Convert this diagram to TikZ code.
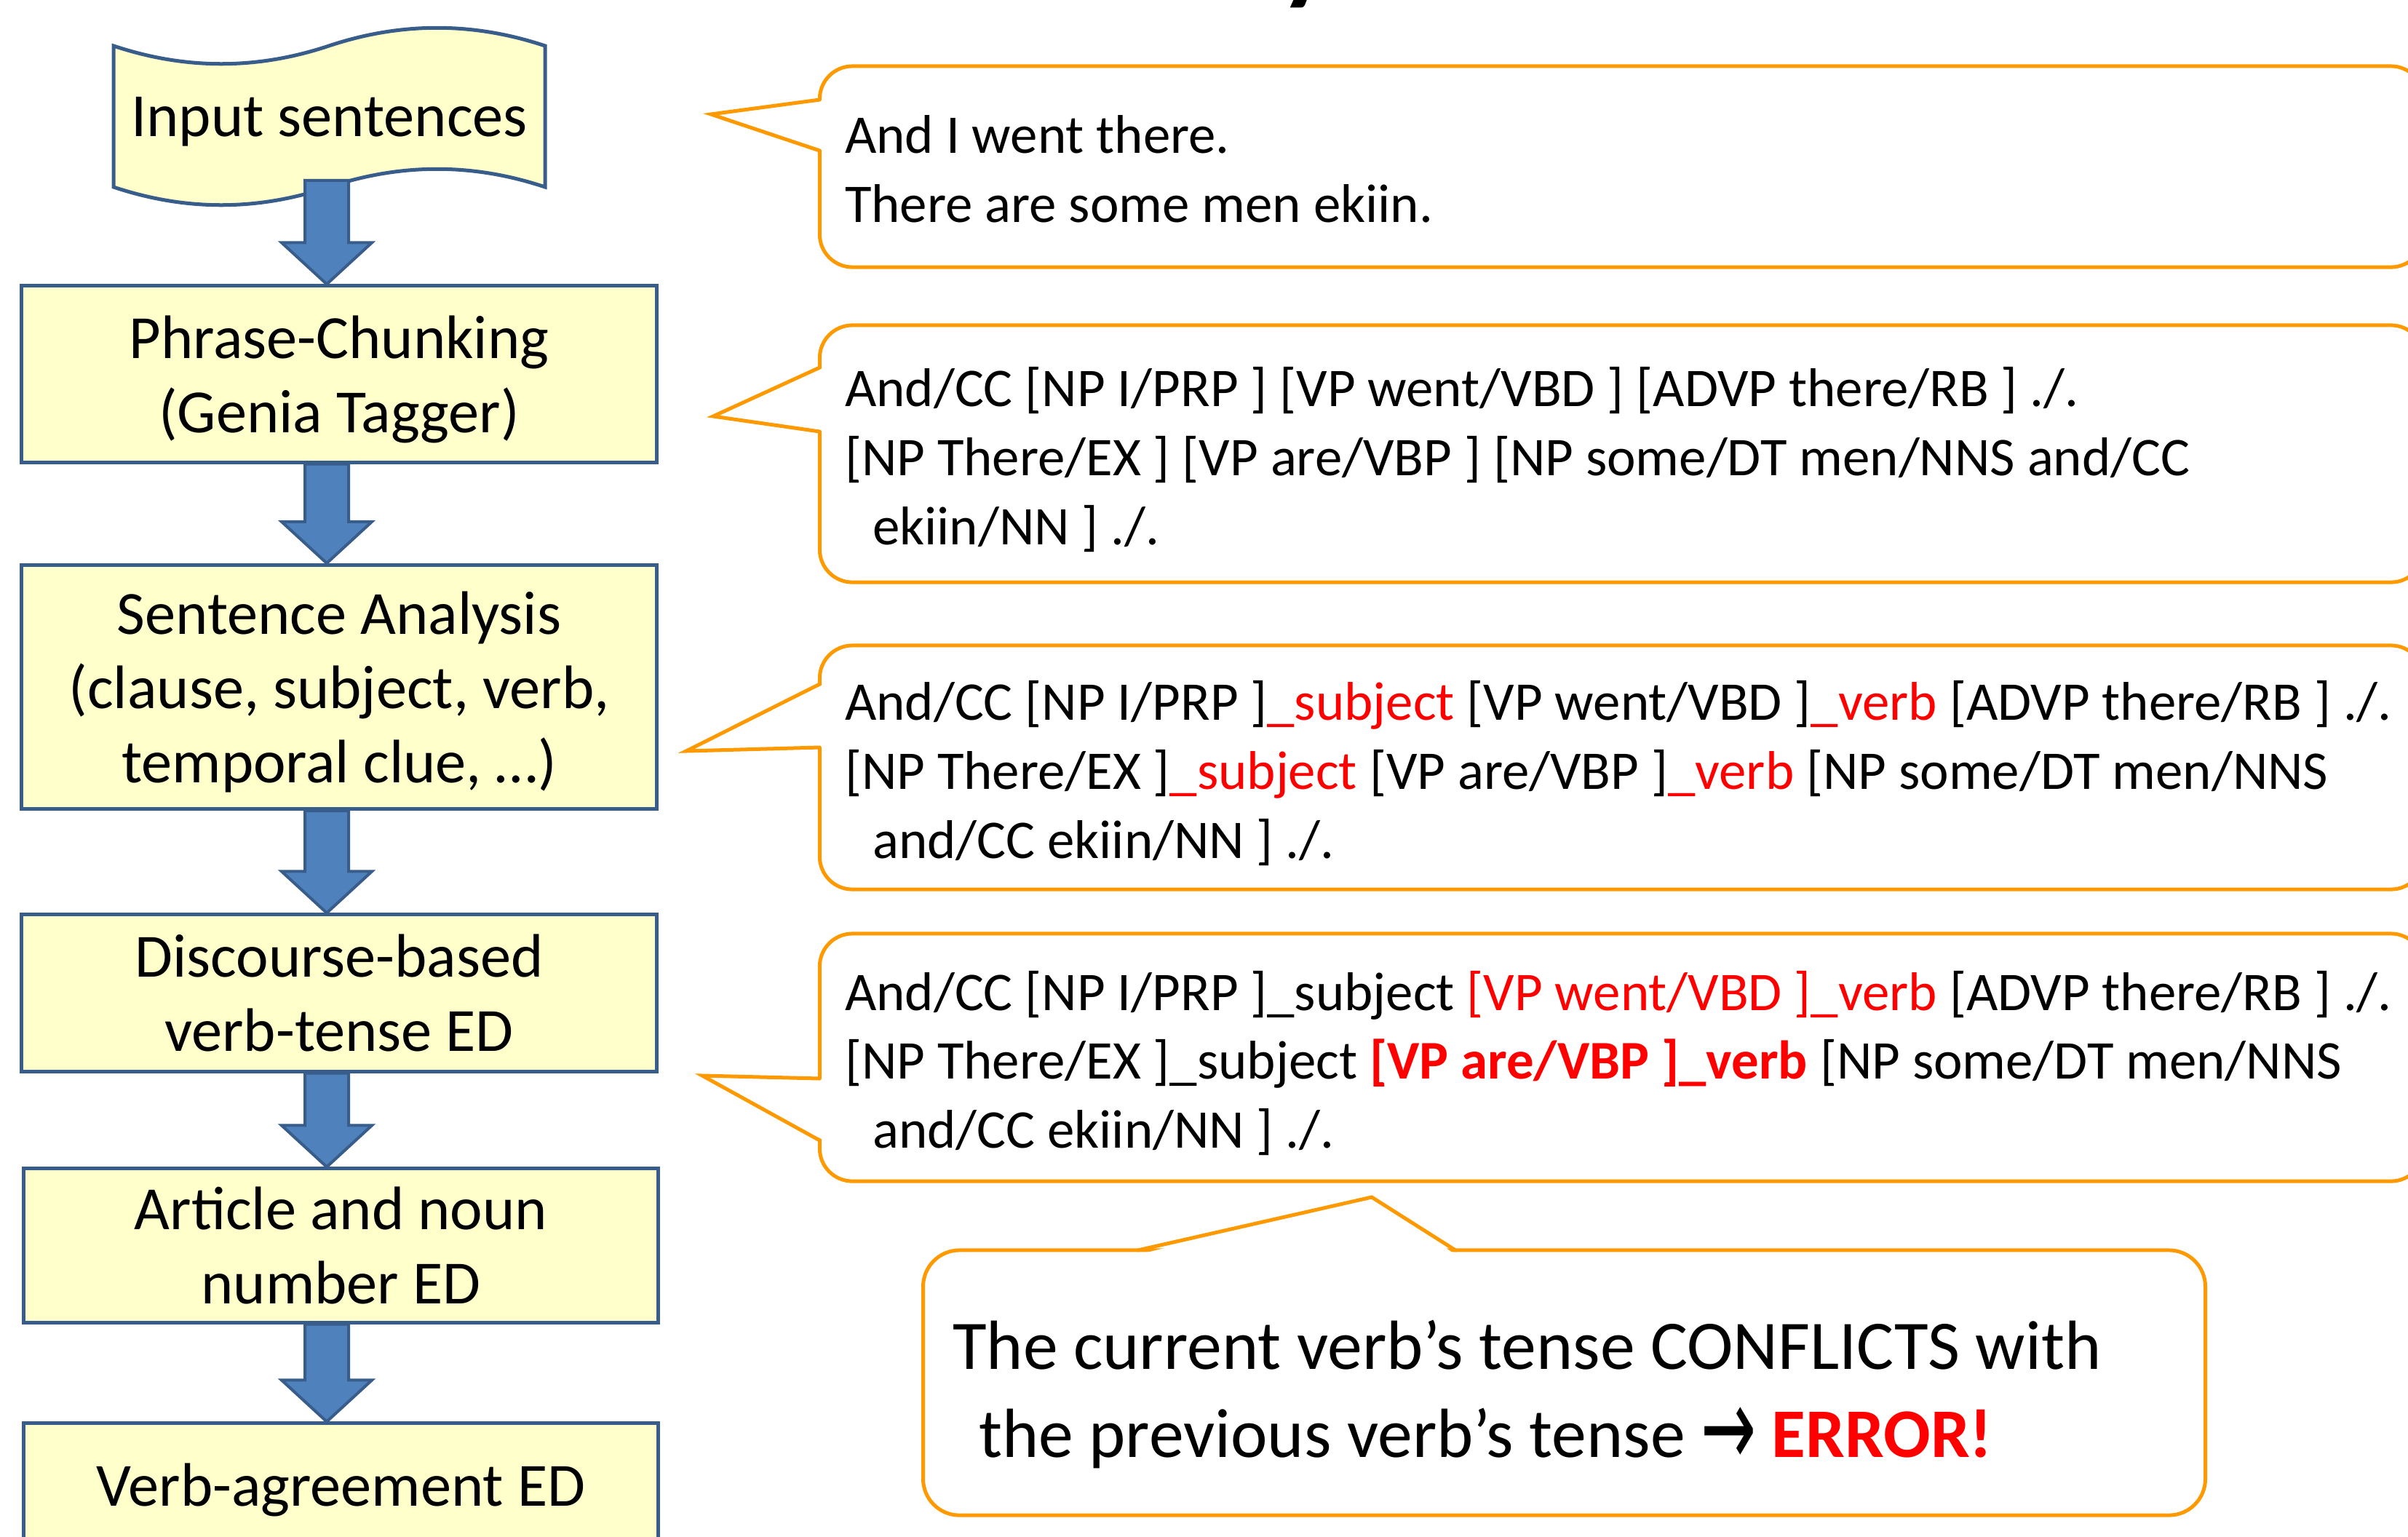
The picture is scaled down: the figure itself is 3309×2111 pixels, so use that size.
\documentclass[tikz,border=0pt]{standalone}
\usepackage{fontspec}
\usepackage{graphicx}
\setmainfont{Carlito}
\newfontfamily\flechefont{DejaVu Sans}
\usetikzlibrary{calc}

\definecolor{jaunepale}{HTML}{FFFFCC}
\definecolor{bleufonce}{HTML}{385D8A}
\definecolor{bleuclair}{HTML}{4F81BD}
\definecolor{orangebulle}{HTML}{FF9900}
\definecolor{rouge}{HTML}{FF0000}

% fleche pleine entre deux boites
\newcommand{\flechebloc}[2]{%
  \draw[flechebleue]
  ($(axe |- #1.south)+(-30,0)$) -- ($(axe |- #1.south)+(30,0)$)
  -- ($(axe |- #2.north)+(30,-57)$) -- ($(axe |- #2.north)+(62,-57)$)
  -- (axe |- #2.north)
  -- ($(axe |- #2.north)+(-62,-57)$) -- ($(axe |- #2.north)+(-30,-57)$) -- cycle;}

\begin{document}
\begin{tikzpicture}[x=0.01cm, y=-0.01cm,
    contour/.style={draw=bleufonce, line width=0.05cm, fill=jaunepale},
    etiquette/.style={align=center, text depth=0pt, font=\fontsize{24}{29}\selectfont},
    boite/.style={contour, etiquette, minimum width=8.72cm},
    bulle/.style={draw=orangebulle, line width=0.05cm, rounded corners=0.45cm, fill=white, outer sep=0pt},
    pointe/.style={draw=orangebulle, line width=0.05cm, line cap=round},
    texte/.style={align=left, anchor=west, inner sep=0pt, font=\fontsize{21.3}{27}\selectfont},
    flechebleue/.style={draw=bleufonce, line width=0.04cm, fill=bleuclair}]

  \path[use as bounding box, clip] (0,0) rectangle (3309,2111);

  % Titre, coupe par le bord
  \node[font=\fontsize{44}{50}\selectfont\bfseries, anchor=base] (titre) at (1795,-14) {y};

  % Bande d'entree
  \draw[contour] (156,63) .. controls (255,96) and (353,96) .. (452,63)
    .. controls (551,30) and (650,30) .. (749,63) -- (749,257)
    .. controls (650,224) and (551,224) .. (452,257)
    .. controls (353,290) and (255,290) .. (156,257) -- cycle;
  \node[etiquette, minimum width=5.93cm, minimum height=1.74cm] (input) at (452.5,160) {Input sentences};

  % Boites du schema
  \foreach \nom/\cx/\cy/\haut/\lignes in {
      chunk/466/514/2.42/{Phrase-Chunking\\(Genia Tagger)},
      analyse/466/944/3.35/{Sentence Analysis\\(clause, subject, verb,\\temporal clue, …)},
      discours/466/1364.5/2.15/{Discourse-based\\verb-tense ED},
      article/468.5/1711.5/2.11/{Article and noun\\number ED},
      accord/468.5/2040/1.68/{Verb-agreement ED}}
    \node[boite, minimum height=\haut cm] (\nom) at (\cx,\cy) {\lignes};

  % Fleches
  \coordinate (axe) at (449,0);
  \foreach \a/\b in {input/chunk, chunk/analyse, analyse/discours, discours/article, article/accord}
    \flechebloc{\a}{\b};

  % Bulles
  \foreach \nom/\cy/\haut in {bulle1/229/2.76, bulle2/623.5/3.53, bulle3/1054.5/3.35, bulle4/1453/3.40}
    \node[bulle, minimum width=22.03cm, minimum height=\haut cm] (\nom) at (2228.5,\cy) {};
  \node[bulle, rounded corners=0.5cm, minimum width=17.61cm, minimum height=3.64cm] (erreur) at (2149.5,1900) {};

  % Pointes des bulles
  \foreach \nom/\ya/\tx/\ty/\yb in {bulle1/137/977/157/207, bulle2/505/980/572/593,
      bulle3/940/943/1032/1027, bulle4/1482/965/1478/1567} {
    \fill[white] ($(\nom.west |- 0,\ya)+(6,0)$) -- (\tx,\ty) -- ($(\nom.west |- 0,\yb)+(6,0)$) -- cycle;
    \draw[pointe] (\nom.west |- 0,\ya) -- (\tx,\ty) -- (\nom.west |- 0,\yb);
  }
  \fill[white] ($(erreur.north -| 1564,0)+(0,6)$) -- (1885,1645) -- ($(erreur.north -| 2000,0)+(0,6)$) -- cycle;
  \draw[pointe] (erreur.north -| 1564,0) -- (1885,1645) -- (erreur.north -| 2000,0);

  % Textes des bulles
  \node[texte] (texte1) at ([xshift=0.34cm, yshift=-0.03cm]bulle1.west)
    {And I went there.\\There are some men ekiin.};
  \node[texte] (texte2) at ([xshift=0.34cm, yshift=-0.08cm]bulle2.west)
    {And/CC [NP I/PRP ] [VP went/VBD ] [ADVP there/RB ] ./.\\{}[NP There/EX ] [VP are/VBP ] [NP some/DT men/NNS and/CC\\\hspace*{0.38cm}ekiin/NN ] ./.};
  \node[texte] (texte3) at ([xshift=0.34cm, yshift=-0.08cm]bulle3.west)
    {And/CC [NP I/PRP ]\textcolor{rouge}{\_subject} [VP went/VBD ]\textcolor{rouge}{\_verb} [ADVP there/RB ] ./.\\{}[NP There/EX ]\textcolor{rouge}{\_subject} [VP are/VBP ]\textcolor{rouge}{\_verb} [NP some/DT men/NNS\\\hspace*{0.38cm}and/CC ekiin/NN ] ./.};
  \node[texte] (texte4) at ([xshift=0.34cm, yshift=-0.08cm]bulle4.west)
    {And/CC [NP I/PRP ]\_subject \textcolor{rouge}{[VP went/VBD ]\_verb} [ADVP there/RB ] ./.\\{}[NP There/EX ]\_subject \textcolor{rouge}{\bfseries [VP are/VBP ]\_verb} [NP some/DT men/NNS\\\hspace*{0.38cm}and/CC ekiin/NN ] ./.};
  \node[texte, font=\fontsize{27.2}{34.4}\selectfont] (texte5) at ([xshift=0.40cm, yshift=-0.16cm]erreur.west)
    {The current verb’s tense CONFLICTS with\\\hspace*{0.36cm}the previous verb’s tense \raisebox{-0.12em}{\scalebox{0.95}[1.6]{\flechefont →}} \textcolor{rouge}{\bfseries ERROR!}};
\end{tikzpicture}
\end{document}
